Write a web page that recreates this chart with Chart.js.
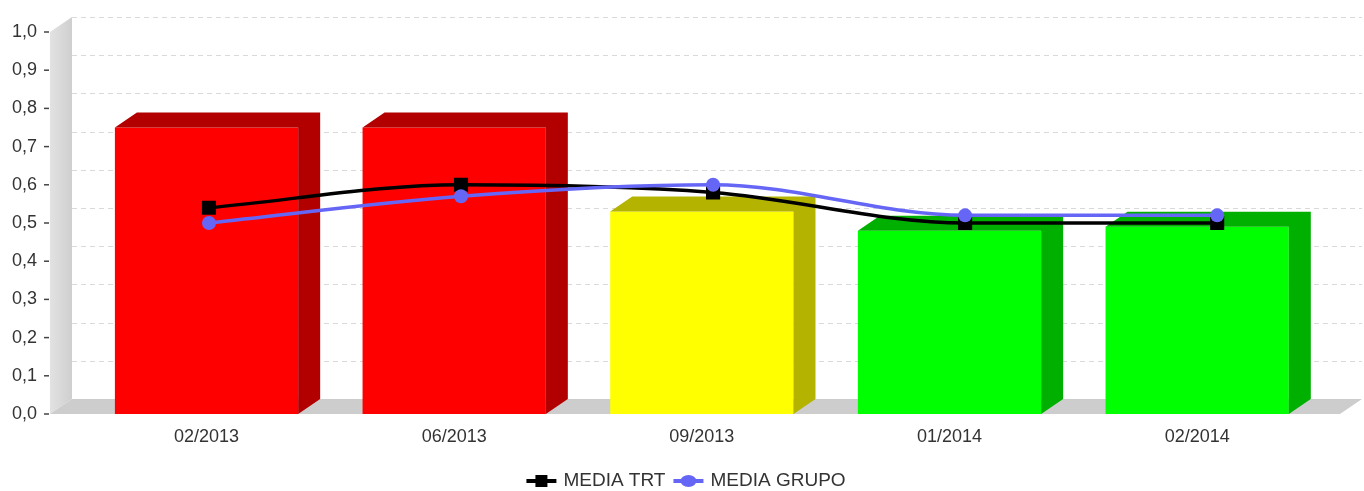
<!DOCTYPE html>
<html>
<head>
<meta charset="utf-8">
<script src="https://cdn.jsdelivr.net/npm/chart.js@4.4.0/dist/chart.umd.min.js"></script>
<style>
  body { margin: 0; background: #fff; }
  canvas { display: block; }
</style>
</head>
<body>
<canvas id="chart" width="1364" height="491"></canvas>
<script>
const categories = ['02/2013', '06/2013', '09/2013', '01/2014', '02/2014'];
const barValues = [0.75, 0.75, 0.53, 0.48, 0.49];
const barFront = ['#ff0000', '#ff0000', '#ffff00', '#00ff00', '#00ff00'];
const barShade = ['#b20000', '#b20000', '#b3b300', '#00b000', '#00b000'];
const trtValues = [0.54, 0.60, 0.58, 0.50, 0.50];
const grupoValues = [0.50, 0.57, 0.60, 0.52, 0.52];
const legendNames = ['MEDIA TRT', 'MEDIA GRUPO'];

// depth of the fake 3d
const DX = 22, DY = -15;
const FONT = '"Liberation Sans", Arial, sans-serif';

Chart.defaults.font.family = FONT;
Chart.defaults.font.size = 18;
Chart.defaults.color = '#333';

const fmt = v => v.toFixed(1).replace('.', ',');

const threeD = {
  id: 'threeD',
  beforeDatasetsDraw(chart) {
    const { ctx, scales: { y } } = chart;
    const wallX = 50, floorRight = 1340;
    const y0 = y.getPixelForValue(0), y1 = y.getPixelForValue(1);
    ctx.save();
    // left wall
    const g = ctx.createLinearGradient(wallX, 0, wallX + DX, 0);
    g.addColorStop(0, '#e2e2e2');
    g.addColorStop(1, '#cfcfcf');
    ctx.fillStyle = g;
    ctx.beginPath();
    ctx.moveTo(wallX, y1);
    ctx.lineTo(wallX + DX, y1 + DY);
    ctx.lineTo(wallX + DX, y0 + DY);
    ctx.lineTo(wallX, y0);
    ctx.closePath();
    ctx.fill();
    // back wall grid
    ctx.strokeStyle = '#d9d9d9';
    ctx.lineWidth = 1;
    ctx.setLineDash([5, 4]);
    y.ticks.forEach(t => {
      if (t.value === 0) return;
      const py = Math.round(y.getPixelForValue(t.value) + DY) + 0.5;
      ctx.beginPath();
      ctx.moveTo(wallX + DX, py);
      ctx.lineTo(floorRight + DX, py);
      ctx.stroke();
    });
    ctx.setLineDash([]);
    // floor
    ctx.fillStyle = '#cdcdcd';
    ctx.beginPath();
    ctx.moveTo(wallX, y0);
    ctx.lineTo(wallX + DX, y0 + DY);
    ctx.lineTo(floorRight + DX, y0 + DY);
    ctx.lineTo(floorRight, y0);
    ctx.closePath();
    ctx.fill();
    // tick marks
    ctx.strokeStyle = '#444';
    ctx.lineWidth = 1.5;
    y.ticks.forEach(t => {
      const py = y.getPixelForValue(t.value);
      ctx.beginPath();
      ctx.moveTo(wallX - 6, py);
      ctx.lineTo(wallX - 1, py);
      ctx.stroke();
    });
    ctx.restore();
  },
  afterDatasetDraw(chart, args) {
    if (args.index !== 0) return;
    const { ctx } = chart;
    const meta = chart.getDatasetMeta(0);
    ctx.save();
    meta.data.forEach((bar, i) => {
      const { x, y, base, width } = bar.getProps(['x', 'y', 'base', 'width'], true);
      const l = x - width / 2, r = x + width / 2;
      ctx.fillStyle = barShade[i];
      ctx.beginPath();
      ctx.moveTo(l, y);
      ctx.lineTo(l + DX, y + DY);
      ctx.lineTo(r + DX, y + DY);
      ctx.lineTo(r + DX, base + DY);
      ctx.lineTo(r, base);
      ctx.lineTo(r, y);
      ctx.closePath();
      ctx.fill();
    });
    ctx.restore();
  },
  afterDraw(chart) {
    const { ctx } = chart;
    const styles = [
      { color: '#000', square: true },
      { color: '#6666f6', square: false }
    ];
    ctx.save();
    ctx.font = '19px ' + FONT;
    const iconW = 30, gapIcon = 7, gapItem = 8;
    const widths = legendNames.map(n => ctx.measureText(n).width);
    const total = widths.reduce((s, w) => s + w + iconW + gapIcon, 0) + gapItem;
    let x = 686 - total / 2;
    const cy = 481;
    legendNames.forEach((name, i) => {
      const s = styles[i];
      ctx.strokeStyle = s.color;
      ctx.fillStyle = s.color;
      ctx.lineWidth = 4;
      ctx.beginPath();
      ctx.moveTo(x, cy);
      ctx.lineTo(x + iconW, cy);
      ctx.stroke();
      if (s.square) {
        ctx.fillRect(x + iconW / 2 - 6, cy - 6, 12, 12);
      } else {
        ctx.beginPath();
        ctx.ellipse(x + iconW / 2, cy, 8, 6, 0, 0, Math.PI * 2);
        ctx.fill();
      }
      ctx.fillStyle = '#333';
      ctx.textBaseline = 'middle';
      ctx.fillText(name, x + iconW + gapIcon, cy);
      x += iconW + gapIcon + widths[i] + gapItem;
    });
    ctx.restore();
  }
};

const toPoints = vals => vals.map((v, i) => ({ x: i, y: v }));

new Chart(document.getElementById('chart'), {
  data: {
    labels: categories,
    datasets: [
      {
        type: 'bar',
        data: barValues,
        backgroundColor: barFront,
        borderWidth: 0,
        grouped: false,
        categoryPercentage: 1,
        barPercentage: 0.74,
        xAxisID: 'x',
        order: 2
      },
      {
        type: 'line',
        label: legendNames[0],
        data: toPoints(trtValues),
        borderColor: '#000',
        backgroundColor: '#000',
        borderWidth: 3.5,
        pointStyle: 'rect',
        pointRadius: 10,
        pointBorderWidth: 0,
        cubicInterpolationMode: 'monotone',
        xAxisID: 'xl',
        order: 1
      },
      {
        type: 'line',
        label: legendNames[1],
        data: toPoints(grupoValues),
        borderColor: '#6666f6',
        backgroundColor: '#6666f6',
        borderWidth: 3.5,
        pointStyle: 'circle',
        pointRadius: 7,
        pointBorderWidth: 0,
        cubicInterpolationMode: 'monotone',
        xAxisID: 'xl',
        order: 0
      }
    ]
  },
  options: {
    responsive: false,
    animation: false,
    devicePixelRatio: 1,
    layout: { padding: { top: 32, right: 43, left: 12, bottom: 0 } },
    plugins: { legend: { display: false }, tooltip: { enabled: false } },
    scales: {
      x: {
        type: 'category',
        offset: true,
        grid: { display: false, drawTicks: false },
        border: { display: false },
        ticks: { padding: 12, font: { size: 18 }, color: '#333' },
        afterFit: s => { s.height = 77; }
      },
      xl: {
        type: 'linear',
        display: false,
        min: -0.501,
        max: 4.412
      },
      y: {
        min: 0,
        max: 1,
        grid: { display: false, drawTicks: false },
        border: { display: false },
        ticks: { stepSize: 0.1, padding: 0, crossAlign: 'far', callback: v => fmt(v), font: { size: 18 }, color: '#333' },
        afterFit: s => { s.width = 70.7; }
      }
    }
  },
  plugins: [threeD]
});
</script>
</body>
</html>
